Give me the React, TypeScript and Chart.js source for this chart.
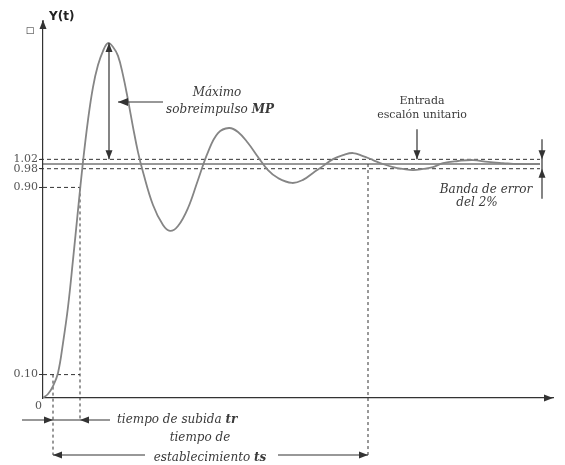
import React, { useEffect, useRef } from 'react';
import { Chart, registerables } from 'chart.js';

Chart.register(...registerables);

// Step response y(t)
const timeValues = [0, 0.1, 0.2, 0.3, 0.4, 0.5, 0.6, 0.7, 0.8, 0.9, 1.0, 1.1, 1.2, 1.3, 1.4, 1.5, 1.6, 1.7, 1.8, 1.9, 2.0, 2.2, 2.4, 2.54, 2.7, 2.9, 3.1, 3.3, 3.5, 3.72, 3.9, 4.1, 4.3, 4.5, 4.7, 4.98, 5.2, 5.4, 5.6, 5.8, 6.0, 6.2, 6.4, 6.6, 6.8, 7.0, 7.2, 7.4, 7.6, 7.8, 8.0, 8.3, 8.6, 8.9, 9.2, 9.5, 9.94];
const responseValues = [0, 0.017, 0.051, 0.107, 0.235, 0.389, 0.59, 0.803, 1.01, 1.188, 1.329, 1.423, 1.483, 1.517, 1.5, 1.462, 1.38, 1.274, 1.158, 1.051, 0.966, 0.825, 0.739, 0.714, 0.735, 0.812, 0.932, 1.051, 1.132, 1.154, 1.137, 1.09, 1.03, 0.974, 0.94, 0.919, 0.932, 0.962, 0.991, 1.021, 1.038, 1.047, 1.034, 1.017, 1.0, 0.987, 0.979, 0.974, 0.979, 0.987, 1.004, 1.013, 1.017, 1.009, 1.004, 1.0, 1.0];

// Y axis tick marks
const yTickValues = [0.1, 0.9, 0.98, 1.02];
const yTickLabels = ['0.10', '0.90', '0.98', '1.02'];
const originLabel = '0';

// Key values of the annotations
const steadyValue = 1.0;
const bandUpper = 1.02;
const bandLower = 0.98;
const riseLow = 0.1;
const riseHigh = 0.9;
const riseStart = 0.2;
const riseEnd = 0.74;
const settleTime = 6.5;
const peakTime = 1.32;
const peakValue = 1.517;
const bandEnd = 9.94;
const inputArrowTime = 7.48;
const bandArrowTime = 9.98;
const xMax = 10.2;
const yMax = 1.607;

const SERIF = '"DejaVu Serif", serif';
const INK = '#333';

function arrowHead(ctx: CanvasRenderingContext2D, tx: number, ty: number, dir: 'up' | 'down' | 'left' | 'right', len = 9, hw = 3.5) {
  ctx.beginPath();
  ctx.moveTo(tx, ty);
  if (dir === 'up') { ctx.lineTo(tx - hw, ty + len); ctx.lineTo(tx + hw, ty + len); }
  if (dir === 'down') { ctx.lineTo(tx - hw, ty - len); ctx.lineTo(tx + hw, ty - len); }
  if (dir === 'left') { ctx.lineTo(tx + len, ty - hw); ctx.lineTo(tx + len, ty + hw); }
  if (dir === 'right') { ctx.lineTo(tx - len, ty - hw); ctx.lineTo(tx - len, ty + hw); }
  ctx.closePath();
  ctx.fill();
}

function line(ctx: CanvasRenderingContext2D, x1: number, y1: number, x2: number, y2: number) {
  ctx.beginPath();
  ctx.moveTo(x1, y1);
  ctx.lineTo(x2, y2);
  ctx.stroke();
}

function mixedText(ctx: CanvasRenderingContext2D, normal: string, bold: string, cx: number, cy: number, size: number) {
  const nf = `italic ${size}px ${SERIF}`;
  const bf = `italic bold ${size}px ${SERIF}`;
  ctx.font = nf;
  const w1 = ctx.measureText(normal).width;
  ctx.font = bf;
  const w2 = ctx.measureText(bold).width;
  const start = cx - (w1 + w2) / 2;
  ctx.textAlign = 'left';
  ctx.textBaseline = 'middle';
  ctx.font = nf;
  ctx.fillText(normal, start, cy);
  ctx.font = bf;
  ctx.fillText(bold, start + w1, cy);
}

const annotations = {
  id: 'stepAnnotations',
  beforeDatasetsDraw(chart: any) {
    const { ctx, chartArea: a, scales } = chart;
    const X = (v: number) => scales.x.getPixelForValue(v);
    const Y = (v: number) => scales.y.getPixelForValue(v);
    ctx.save();
    ctx.strokeStyle = INK;
    ctx.lineWidth = 1;
    ctx.setLineDash([4, 3]);
    line(ctx, a.left - 3, Y(bandUpper), X(bandEnd), Y(bandUpper));
    line(ctx, a.left - 3, Y(bandLower), X(bandEnd), Y(bandLower));
    line(ctx, a.left, Y(riseHigh), X(riseEnd), Y(riseHigh));
    line(ctx, a.left, Y(riseLow), X(riseEnd), Y(riseLow));
    ctx.setLineDash([3, 3]);
    line(ctx, X(riseStart), Y(riseLow), X(riseStart), a.bottom + 57);
    line(ctx, X(riseEnd), Y(riseHigh), X(riseEnd), a.bottom + 22);
    line(ctx, X(settleTime), Y(steadyValue), X(settleTime), a.bottom + 57);
    ctx.setLineDash([]);
    ctx.lineWidth = 1.2;
    line(ctx, a.left, Y(steadyValue), X(bandEnd), Y(steadyValue));
    ctx.restore();
  },
  afterDraw(chart: any) {
    const { ctx, chartArea: a, scales } = chart;
    const X = (v: number) => scales.x.getPixelForValue(v);
    const Y = (v: number) => scales.y.getPixelForValue(v);
    ctx.save();
    ctx.fillStyle = INK;
    ctx.strokeStyle = INK;
    ctx.lineWidth = 1.2;

    // axis arrows
    line(ctx, a.left, a.top, a.left, a.top - 2);
    arrowHead(ctx, a.left, a.top - 2, 'up');
    arrowHead(ctx, a.right, a.bottom, 'right');

    // axis label
    ctx.font = 'bold 12px "DejaVu Sans", sans-serif';
    ctx.textAlign = 'left';
    ctx.textBaseline = 'middle';
    ctx.fillStyle = '#222';
    ctx.fillText('Y(t)', a.left + 6, a.top - 5);
    ctx.font = '9px "DejaVu Sans", sans-serif';
    ctx.textAlign = 'center';
    ctx.fillText('□', a.left - 13, a.top + 9);
    ctx.font = `11px ${SERIF}`;
    ctx.fillStyle = '#555';
    ctx.textAlign = 'right';
    ctx.fillText(originLabel, a.left - 1, a.bottom + 8);
    ctx.fillStyle = INK;

    // maximum overshoot
    const px = X(peakTime);
    line(ctx, px, Y(peakValue), px, Y(bandUpper));
    arrowHead(ctx, px, Y(peakValue), 'up');
    arrowHead(ctx, px, Y(bandUpper), 'down');
    const py = Y(1.265);
    line(ctx, X(1.5), py, X(2.4), py);
    arrowHead(ctx, X(1.5), py, 'left', 10, 4);
    ctx.fillStyle = '#3a3a3a';
    ctx.font = `italic 12px ${SERIF}`;
    ctx.textAlign = 'center';
    ctx.textBaseline = 'middle';
    ctx.fillText('Máximo', X(3.48), Y(1.303));
    mixedText(ctx, 'sobreimpulso ', 'MP', X(3.54), Y(1.231), 12);

    // unit step input
    ctx.fillStyle = INK;
    const ix = X(inputArrowTime);
    line(ctx, ix, Y(bandUpper) - 30, ix, Y(bandUpper));
    arrowHead(ctx, ix, Y(bandUpper), 'down');
    ctx.fillStyle = '#3a3a3a';
    ctx.font = `11px ${SERIF}`;
    ctx.textAlign = 'center';
    ctx.fillText('Entrada', X(7.58), Y(1.269));
    ctx.fillText('escalón unitario', X(7.58), Y(1.209));

    // error band
    ctx.fillStyle = INK;
    const bx = X(bandArrowTime);
    line(ctx, bx, Y(bandUpper) - 20, bx, Y(bandLower) + 30);
    arrowHead(ctx, bx, Y(bandUpper), 'down');
    arrowHead(ctx, bx, Y(bandLower), 'up');
    ctx.fillStyle = '#3a3a3a';
    ctx.font = `italic 12px ${SERIF}`;
    ctx.fillText('Banda de error', X(8.86), Y(0.889));
    ctx.fillText('del 2%', X(8.68), Y(0.833));

    // rise time
    ctx.fillStyle = INK;
    const ry = a.bottom + 22;
    line(ctx, a.left - 21, ry, X(riseEnd) + 30, ry);
    arrowHead(ctx, X(riseStart), ry, 'right');
    arrowHead(ctx, X(riseEnd), ry, 'left');
    ctx.fillStyle = '#3a3a3a';
    ctx.textAlign = 'left';
    ctx.font = `italic 12px ${SERIF}`;
    const t1 = 'tiempo de subida ';
    const w1 = ctx.measureText(t1).width;
    ctx.fillText(t1, X(riseEnd) + 37, ry);
    ctx.font = `italic bold 12px ${SERIF}`;
    ctx.fillText('tr', X(riseEnd) + 37 + w1, ry);

    // settling time
    ctx.fillStyle = INK;
    const sy = a.bottom + 57;
    line(ctx, X(riseStart), sy, X(2.04), sy);
    line(ctx, X(4.7), sy, X(settleTime), sy);
    arrowHead(ctx, X(riseStart), sy, 'left');
    arrowHead(ctx, X(settleTime), sy, 'right');
    ctx.fillStyle = '#3a3a3a';
    ctx.font = `italic 12px ${SERIF}`;
    ctx.textAlign = 'center';
    ctx.fillText('tiempo de', X(3.14), sy - 17);
    mixedText(ctx, 'establecimiento ', 'ts', X(3.34), sy + 3, 12);

    ctx.restore();
  },
};

export default function App() {
  const canvasRef = useRef<HTMLCanvasElement | null>(null);

  useEffect(() => {
    const canvas = canvasRef.current;
    if (!canvas) return;
    const points = timeValues.map((t, i) => ({ x: t, y: responseValues[i] }));
    const chart = new Chart(canvas, {
      type: 'line',
      data: {
        datasets: [
          {
            data: points,
            borderColor: '#858585',
            borderWidth: 1.8,
            pointRadius: 0,
            fill: false,
            tension: 0.4,
          },
        ],
      },
      options: {
        responsive: false,
        animation: false,
        events: [],
        layout: { padding: { top: 22, right: 12, left: 0, bottom: 0 } },
        plugins: { legend: { display: false }, tooltip: { enabled: false } },
        scales: {
          x: {
            type: 'linear',
            min: 0,
            max: xMax,
            grid: { display: false },
            border: { display: true, color: INK, width: 1.2 },
            ticks: { display: false },
            afterFit: (s: any) => { s.height = 67; },
          },
          y: {
            type: 'linear',
            min: 0,
            max: yMax,
            grid: { display: true, drawOnChartArea: false, drawTicks: true, tickLength: 4, color: INK },
            border: { display: true, color: INK, width: 1.2 },
            afterBuildTicks: (s: any) => { s.ticks = yTickValues.map((v) => ({ value: v })); },
            ticks: {
              autoSkip: false,
              padding: 1,
              color: '#555',
              font: { family: 'DejaVu Serif', size: 11 },
              callback: (_v: any, i: number) => yTickLabels[i],
            },
            afterFit: (s: any) => { s.width = 43; },
          },
        },
      },
      plugins: [annotations],
    });
    return () => chart.destroy();
  }, []);

  return (
    <div style={{ position: 'absolute', left: 0, top: 0, width: 565, height: 465, background: '#fff' }}>
      <canvas ref={canvasRef} width={565} height={465} style={{ display: 'block', width: 565, height: 465 }} />
    </div>
  );
}
